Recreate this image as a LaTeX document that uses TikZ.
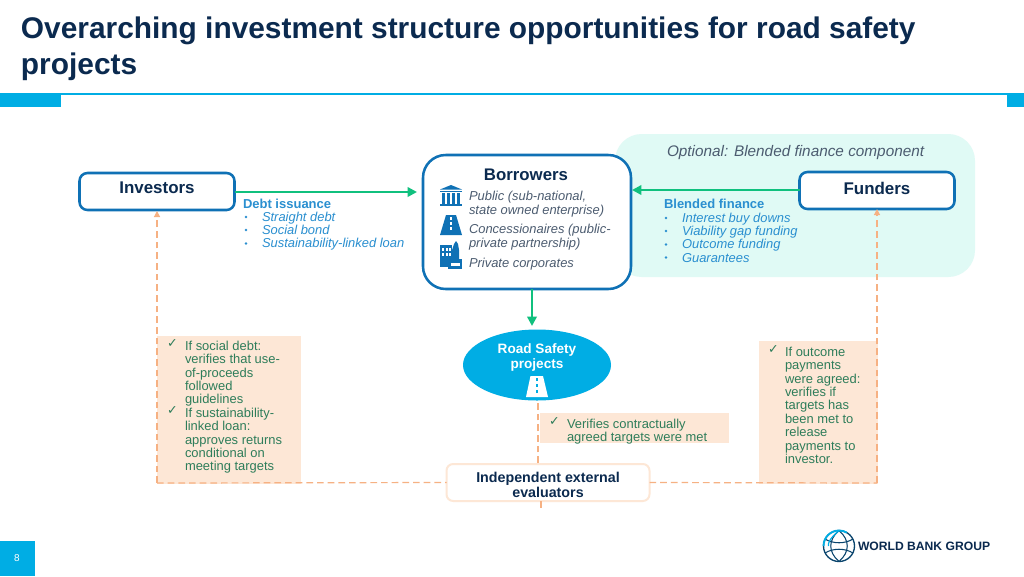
\documentclass[tikz,border=0pt]{standalone}
\usepackage{fontspec}
\setmainfont{Liberation Sans}
\newfontfamily\dejavu{DejaVu Sans}
\usetikzlibrary{arrows.meta,shapes.geometric}
\definecolor{navy}{HTML}{0B2A4F}
\definecolor{cyanb}{HTML}{00ADE4}
\definecolor{boxblue}{HTML}{0F71B5}
\definecolor{arrowgreen}{HTML}{10C07E}
\definecolor{mint}{HTML}{E0FAF5}
\definecolor{peach}{HTML}{FDE7D6}
\definecolor{dashor}{HTML}{F6B183}
\definecolor{txtblue}{HTML}{2A8FD0}
\definecolor{txtgrey}{HTML}{4C5C70}
\definecolor{txtgreen}{HTML}{2E7D5A}
\tikzset{
 x=0.75pt,y=-0.75pt,
 every node/.style={inner sep=0pt,outer sep=0pt},
 actor/.style={draw=boxblue,line width=1.9pt,rounded corners=6pt,fill=white,minimum width=155*0.75pt,minimum height=37*0.75pt},
 actorlabel/.style={text=navy,font=\bfseries\fontsize{12.7}{15}\selectfont},
 conn/.style={draw=arrowgreen,line width=1.9pt,-{Triangle[length=7pt,width=7pt]}},
 dashc/.style={draw=dashor,line width=0.9pt,dash pattern=on 5pt off 3pt},
 dashv/.style={dashc,-{Triangle[length=4.5pt,width=4.5pt]}},
 bluehead/.style={anchor=north west,text=txtblue,font=\bfseries\fontsize{9.75}{10}\selectfont},
 bluetxt/.style={anchor=north west,align=left,text=txtblue,font=\itshape\fontsize{9.7}{9.95}\selectfont},
 greytxt/.style={anchor=north west,align=left,text=txtgrey,font=\itshape\fontsize{9.7}{10.8}\selectfont},
 greentxt/.style={anchor=north west,align=left,text=txtgreen,font=\fontsize{9.7}{10.05}\selectfont},
 tickmark/.style={anchor=north west,text=txtgreen,font=\dejavu\fontsize{9.5}{10}\selectfont},
 peachbox/.style={fill=peach,draw=none},
}
\begin{document}
\begin{tikzpicture}
\useasboundingbox (0,0) rectangle (1024,576);
\fill[white] (0,0) rectangle (1024,576);
% header
\node[anchor=north west,align=left,text=navy,font=\bfseries\fontsize{22.4}{27}\selectfont] (title) at (21,17) {Overarching investment structure opportunities for road safety\\projects};
\fill[cyanb] (0,92.5) rectangle (1024,95);
\fill[cyanb] (0,95) rectangle (61,107);
\fill[cyanb] (1007,95) rectangle (1024,107);
% blended panel
\fill[mint,rounded corners=20pt] (615,134) rectangle (975,277);
\node[anchor=west,text=txtgrey,font=\itshape\fontsize{11.5}{13}\selectfont] (opt) at (667,152.5) {Optional: Blended finance component};
% actors
\node[actor] (inv) at (157,191.5) {};
\node[actorlabel] (invt) at (157,188) {Investors};
\node[actor] (fun) at (877,190.5) {};
\node[actorlabel] (funt) at (877,188) {Funders};
% borrowers
\node[draw=boxblue,line width=1.9pt,rounded corners=17pt,fill=white,minimum width=208*0.75pt,minimum height=134*0.75pt] (bor) at (527,222) {};
\node[text=navy,font=\bfseries\fontsize{12.6}{15}\selectfont] (bort) at (526,175) {Borrowers};
\node[greytxt] (b1) at (469,191) {Public (sub-national,\\state owned enterprise)};
\node[greytxt] (b2) at (469,224) {Concessionaires (public-\\private partnership)};
\node[greytxt] (b3) at (469,258) {Private corporates};
% bank icon
\fill[boxblue] (451,185) -- (462,189.5) -- (440,189.5) -- cycle;
\fill[boxblue] (440,190.5) rectangle (462,192);
\foreach \xx in {441.5,446.5,451.5,456.5}{\fill[boxblue] (\xx,193) rectangle ++(3.5,11);}
\fill[boxblue] (440,204) rectangle (462,206);
% road icon
\fill[boxblue] (446,215) -- (456,215) -- (462,235) -- (440,235) -- cycle;
\foreach \yy in {217,222,227}{\fill[white] (450.3,\yy) rectangle ++(1.4,3);}
% building icon
\fill[boxblue] (440,245) rectangle (452,267);
\foreach \yy in {248,253}{\foreach \xx in {442,445.5,449}{\fill[white] (\xx,\yy) rectangle ++(2,3);}}
\fill[boxblue] (452,250) -- (454,244) -- (456,241) -- (458,244) -- (459,250) -- (459,259) -- (452,259) -- cycle;
\fill[boxblue] (448,259) rectangle (462,269);
\fill[white] (451,263) rectangle (460,266);
% left bullets
\node[bluehead] (dh) at (243,199.5) {Debt issuance};
\node[bluetxt] (dl) at (262,212) {Straight debt\\Social bond\\Sustainability-linked loan};
\foreach \yy in {217,230,243.5}{\fill[txtblue] (246,\yy) circle (1.3);}
\node[bluehead] (bh) at (664,199.5) {Blended finance};
\node[bluetxt] (bl) at (682,213) {Interest buy downs\\Viability gap funding\\Outcome funding\\Guarantees};
\foreach \yy in {218,231,244.5,257.5}{\fill[txtblue] (666,\yy) circle (1.3);}
% road safety
\node[ellipse,fill=cyanb,minimum width=148*0.75pt,minimum height=71*0.75pt] (rs) at (537,365) {};
\node[align=center,text=white,font=\bfseries\fontsize{10.2}{11.2}\selectfont] (rst) at (537,357.5) {Road Safety\\projects};
\fill[white] (526,397) -- (530.5,376) -- (543,376) -- (548,397) -- cycle;
\foreach \yy in {378,384,390}{\fill[cyanb] (536.3,\yy) rectangle ++(1.4,3);}
% peach boxes
\node[peachbox,minimum width=144*0.75pt,minimum height=148*0.75pt,anchor=north west] (pl) at (157,336) {};
\node[peachbox,minimum width=119*0.75pt,minimum height=143*0.75pt,anchor=north west] (pr) at (759,341) {};
\node[peachbox,minimum width=189*0.75pt,minimum height=30*0.75pt,anchor=north west] (pm) at (540,413) {};
\node[greentxt] (pl1) at (185,341) {If social debt:\\verifies that use-\\of-proceeds\\followed\\guidelines};
\node[greentxt] (pl2) at (185,408) {If sustainability-\\linked loan:\\approves returns\\conditional on\\meeting targets};
\node[tickmark] (pl1k) at (167,340) {✓};
\node[tickmark] (pl2k) at (167,407) {✓};
\node[greentxt] (pr1) at (785,347) {If outcome\\payments\\were agreed:\\verifies if\\targets has\\been met to\\release\\payments to\\investor.};
\node[tickmark] (pr1k) at (768,346) {✓};
\node[greentxt] (pm1) at (567,419) {Verifies contractually\\agreed targets were met};
\node[tickmark] (pm1k) at (549,418) {✓};
% evaluator
\node[draw=peach,line width=1.5pt,rounded corners=5pt,fill=white,minimum width=203*0.75pt,minimum height=37*0.75pt] (ev) at (548,482.5) {};
\node[align=center,text=navy,font=\bfseries\fontsize{10.7}{11.3}\selectfont] (evt) at (548,484.5) {Independent external\\evaluators};
% coordinates
\coordinate (invin) at (157,211);
\coordinate (funin) at (877,209);
\coordinate (lc) at (157,483);
\coordinate (rc) at (877,483);
\coordinate (mt) at (538,400);
\coordinate (mb) at (538,463);
\coordinate (st) at (541,501);
\coordinate (sb) at (541,508);
\coordinate (gl) at (235,192);
\coordinate (gb) at (417,192);
\coordinate (gr) at (800,190);
\coordinate (gc) at (632,190);
\coordinate (dt) at (532,289);
\coordinate (db) at (532,326);
% connectors
\draw[dashv] (lc) -- (invin);
\draw[dashv] (rc) -- (funin);
\draw[dashc] (lc) -- (ev.west);
\draw[dashc] (ev.east) -- (rc);
\draw[dashc] (mb) -- (mt);
\draw[dashc] (st) -- (sb);
\draw[conn] (gl) -- (gb);
\draw[conn] (gr) -- (gc);
\draw[conn] (dt) -- (db);
% page number
\fill[cyanb] (0,541) rectangle (35,576);
\node[text=white,font=\fontsize{7.5}{8}\selectfont] (pg) at (17,558) {8};
% logo
\begin{scope}[shift={(839,546)}]
\draw[navy!80!cyanb,line width=1pt] (0,0) circle (15.5);
\draw[navy!80!cyanb,line width=0.8pt] (0,-15.5) .. controls (-11,-6) and (-11,6) .. (0,15.5);
\draw[navy!80!cyanb,line width=0.8pt] (0,-15.5) .. controls (11,-6) and (11,6) .. (0,15.5);
\draw[navy!80!cyanb,line width=0.8pt] (-14,-7) .. controls (-6,-2) and (6,-2) .. (14,-7);
\draw[navy!80!cyanb,line width=0.8pt] (-14,7) .. controls (-6,2) and (6,2) .. (14,7);
\draw[cyanb,line width=1.4pt] (-15.5,0) arc (180:300:15.5);
\draw[cyanb,line width=0.9pt] (0,-15.5) .. controls (-11,-6) and (-11,-2) .. (-10.5,0);
\end{scope}
\node[anchor=west,text=navy,font=\bfseries\fontsize{9.1}{11}\selectfont] (wb) at (858,546.5) {WORLD BANK GROUP};
\end{tikzpicture}
\end{document}
